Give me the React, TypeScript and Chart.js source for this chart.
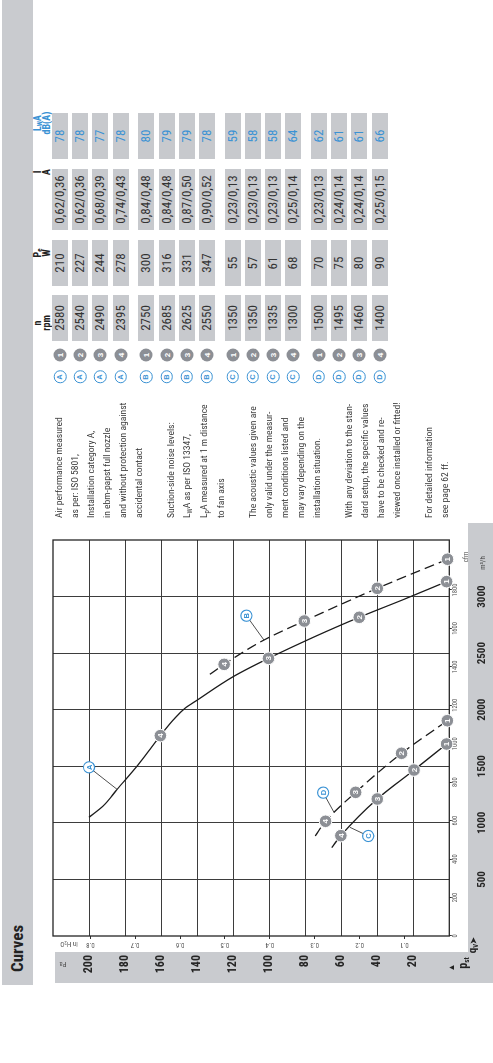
import React, { useEffect, useRef } from 'react';
import { Chart, registerables } from 'chart.js';

Chart.register(...registerables);

const FONT = "'Liberation Sans Narrow','Arial Narrow','Roboto Condensed','Liberation Sans',Arial,sans-serif";
const BAND = '#c9cbcf';
const CELL = '#c7c9cd';
const BLUE = '#3a92d4';
const DOT = '#8c8f95';
const INK = '#262626';
const GRID = '#3d3d3d';

// ---------- axis data ----------
const flowTicks = [500, 1000, 1500, 2000, 2500, 3000];
const cfmTicks = [0, 200, 400, 600, 800, 1000, 1200, 1400, 1600, 1800];
const pressureTicks = [20, 40, 60, 80, 100, 120, 140, 160, 180, 200];
const inH2OTicks = [0.1, 0.2, 0.3, 0.4, 0.5, 0.6, 0.7, 0.8];
const FLOW_MAX = 3500;
const PRESSURE_MAX = 220;
const M3H_PER_CFM = 1.699;
const PA_PER_INH2O = 249.089;

// ---------- curves (flow m³/h, pressure Pa) ----------
const curveAFlow = [1049, 1149, 1296, 1532, 1771, 1924, 2012, 2080, 2292, 2454, 2640, 2817, 2985, 3132];
const curveAPressure = [200, 192.2, 184.4, 171.8, 160.4, 152.4, 146.8, 140.4, 120, 100.4, 75.5, 50, 23.7, 1.5];
const curveBFlow = [2313, 2401, 2616, 2784, 3073, 3330];
const curveBPressure = [132.9, 125, 102.9, 80.5, 40, 1];
const curveCFlow = [781, 887, 1211, 1467, 1697];
const curveCPressure = [65.3, 60.2, 40, 19.6, 1.5];
const curveDFlow = [884, 1014, 1270, 1615, 1903];
const curveDPressure = [74.4, 68.7, 52, 26.5, 1.1];

// operating points 4,3,2,1 on each curve
const pointNumbers = [4, 3, 2, 1];
const opAFlow = [1771, 2454, 2817, 3132];
const opAPressure = [160.4, 100.4, 50, 1.5];
const opBFlow = [2401, 2784, 3073, 3330];
const opBPressure = [125, 80.5, 40, 1];
const opCFlow = [887, 1211, 1467, 1697];
const opCPressure = [60.2, 40, 19.6, 1.5];
const opDFlow = [1014, 1270, 1615, 1903];
const opDPressure = [68.7, 52, 26.5, 1.1];

// curve letters and their leader targets
const curveLetters = ['A', 'B', 'C', 'D'];
const letterFlow = [1491, 2831, 884, 1267];
const letterPressure = [200, 112.6, 45, 70];
const leaderFlow = [1296, 2616, 961, 1093];
const leaderPressure = [184.4, 102.9, 55.2, 64];

// ---------- table ----------
const groups = ['A', 'B', 'C', 'D'];
const speeds = [2580, 2540, 2490, 2395, 2750, 2685, 2625, 2550, 1350, 1350, 1335, 1300, 1500, 1495, 1460, 1400];
const powers = [210, 227, 244, 278, 300, 316, 331, 347, 55, 57, 61, 68, 70, 75, 80, 90];
const currents = ['0,62/0,36', '0,62/0,36', '0,68/0,39', '0,74/0,43', '0,84/0,48', '0,84/0,48', '0,87/0,50', '0,90/0,52',
  '0,23/0,13', '0,23/0,13', '0,23/0,13', '0,25/0,14', '0,23/0,13', '0,24/0,14', '0,24/0,14', '0,25/0,15'];
const noise = [78, 78, 77, 78, 80, 79, 79, 78, 59, 58, 58, 64, 62, 61, 61, 66];

const noteLines = [
  'Air performance measured', 'as per: ISO 5801,', 'Installation category A,', 'in ebm-papst full nozzle',
  'and without protection against', 'accidental contact', '',
  'Suction-side noise levels:', 'L_WA as per ISO 13347,', 'L_pA measured at 1 m distance', 'to fan axis', '',
  'The acoustic values given are', 'only valid under the measur-', 'ment conditions listed and',
  'may vary depending on the', 'installation situation.', '',
  'With any deviation to the stan-', 'dard setup, the specific values', 'have to be checked and re-',
  'viewed once installed or fitted!', '',
  'For detailed information', 'see page 62 ff.',
];

const pts = (xs: number[], ys: number[]) => xs.map((x, i) => ({ x, y: ys[i] }));

const overlayPlugin = {
  id: 'overlay',
  beforeDatasetsDraw(chart: any) {
    const { ctx, chartArea: a } = chart;
    ctx.save();
    ctx.strokeStyle = '#262626';
    ctx.lineWidth = 1.3;
    ctx.strokeRect(a.left, a.top, a.right - a.left, a.bottom - a.top);
    ctx.restore();
  },
  afterDatasetsDraw(chart: any) {
    const { ctx } = chart;
    ctx.save();
    ctx.textAlign = 'center';
    ctx.textBaseline = 'middle';
    chart.data.datasets.forEach((ds: any, i: number) => {
      if (!ds.tags) return;
      ctx.fillStyle = ds.tagColor;
      ctx.font = `bold ${ds.tagSize}px 'Liberation Sans', Arial, sans-serif`;
      chart.getDatasetMeta(i).data.forEach((el: any, j: number) => {
        ctx.fillText(String(ds.tags[j]), el.x, el.y + 0.5);
      });
    });
    ctx.restore();
  },
};

const sub = (t: string) => <span style={{ fontSize: '0.7em', position: 'relative', top: '0.25em' }}>{t}</span>;

function NoteLine({ text }: { text: string }) {
  if (text.startsWith('L_')) {
    return <>L{sub(text[2])}{text.slice(3)}</>;
  }
  return <>{text || '\u00a0'}</>;
}

export default function App() {
  const ref = useRef<HTMLCanvasElement | null>(null);

  useEffect(() => {
    const canvas = ref.current;
    if (!canvas) return;
    const curves = [
      { d: pts(curveAFlow, curveAPressure), dash: false },
      { d: pts(curveBFlow, curveBPressure), dash: true },
      { d: pts(curveCFlow, curveCPressure), dash: false },
      { d: pts(curveDFlow, curveDPressure), dash: true },
    ];
    const ops = [pts(opAFlow, opAPressure), pts(opBFlow, opBPressure), pts(opCFlow, opCPressure), pts(opDFlow, opDPressure)];
    const datasets: any[] = [];
    curves.forEach((c) => datasets.push({
      data: c.d, showLine: true, borderColor: '#1c1c1c', borderWidth: 1.3,
      borderDash: c.dash ? [10, 5] : [], pointRadius: 0, tension: 0.4,
      cubicInterpolationMode: 'monotone', order: 3, clip: false,
    }));
    curveLetters.forEach((_, i) => datasets.push({
      data: [{ x: letterFlow[i], y: letterPressure[i] }, { x: leaderFlow[i], y: leaderPressure[i] }],
      showLine: true, borderColor: '#222', borderWidth: 0.8, pointRadius: 0, order: 2, clip: false,
    }));
    ops.forEach((d) => datasets.push({
      data: d, showLine: false, pointRadius: 6.3, pointBackgroundColor: DOT, pointBorderColor: '#fff',
      pointBorderWidth: 1, order: 1, clip: false, tags: pointNumbers, tagColor: '#fff', tagSize: 8,
    }));
    datasets.push({
      data: pts(letterFlow, letterPressure), showLine: false, pointRadius: 5.6, pointBackgroundColor: '#fff',
      pointBorderColor: BLUE, pointBorderWidth: 1.1, order: 0, clip: false, tags: curveLetters, tagColor: BLUE, tagSize: 7.5,
    });

    const chart = new Chart(canvas, {
      type: 'scatter',
      data: { datasets },
      plugins: [overlayPlugin],
      options: {
        animation: false,
        responsive: false,
        maintainAspectRatio: false,
        events: [],
        layout: { padding: { top: 20, left: 0, right: 25, bottom: 0 } },
        plugins: { legend: { display: false }, tooltip: { enabled: false } },
        scales: {
          x: {
            type: 'linear', position: 'bottom', min: 0, max: FLOW_MAX, weight: 1,
            afterBuildTicks: (s: any) => { s.ticks = flowTicks.map((v) => ({ value: v })); },
            afterFit: (s: any) => { s.height = 24.7; },
            grid: { color: GRID, lineWidth: 1, drawTicks: false },
            border: { display: false },
            ticks: { font: { family: FONT, size: 11, weight: 'bold' }, color: INK, padding: 7, maxRotation: 0, autoSkip: false, callback: (v: any) => String(v) },
          },
          xcfm: {
            type: 'linear', position: 'bottom', min: 0, max: FLOW_MAX / M3H_PER_CFM, weight: 0,
            afterBuildTicks: (s: any) => { s.ticks = cfmTicks.map((v) => ({ value: v })); },
            afterFit: (s: any) => { s.height = 19; },
            grid: { drawOnChartArea: false, drawTicks: true, tickLength: 2.5, color: '#333' },
            border: { display: false },
            ticks: { font: { family: FONT, size: 6.5, lineHeight: 1 }, color: '#555', padding: 0, maxRotation: 0, autoSkip: false, callback: (v: any) => String(v) },
          },
          y: {
            type: 'linear', position: 'left', min: 0, max: PRESSURE_MAX, weight: 1,
            afterBuildTicks: (s: any) => { s.ticks = pressureTicks.map((v) => ({ value: v })); },
            afterFit: (s: any) => { s.width = 33; },
            grid: { color: GRID, lineWidth: 1, drawTicks: false },
            border: { display: false },
            ticks: { font: { family: FONT, size: 12, weight: 'bold' }, color: INK, padding: 3, autoSkip: false, callback: (v: any) => String(v) },
          },
          yin: {
            type: 'linear', position: 'left', min: 0, max: PRESSURE_MAX / PA_PER_INH2O, weight: 0,
            afterBuildTicks: (s: any) => { s.ticks = inH2OTicks.map((v) => ({ value: v })); },
            afterFit: (s: any) => { s.width = 16; },
            grid: { drawOnChartArea: false, drawTicks: true, tickLength: 3, color: '#333' },
            border: { display: false },
            ticks: { font: { family: FONT, size: 7 }, color: '#555', padding: 1, minRotation: 90, maxRotation: 90, crossAlign: 'center', autoSkip: false, callback: (v: any) => Number(v).toFixed(1) },
          },
        },
      } as any,
    } as any);
    return () => chart.destroy();
  }, []);

  const abs = (left: number, top: number, extra: any = {}) => ({ position: 'absolute' as const, left, top, ...extra });
  const centered = (cx: number, cy: number, extra: any = {}) => ({
    position: 'absolute' as const, left: cx, top: cy, transform: 'translate(-50%,-50%)', whiteSpace: 'nowrap' as const, ...extra,
  });

  const columns = [
    { left: 722, width: 46, hc: 740, h1: <>n</>, h2: 'rpm', values: speeds.map(String), color: '#333' },
    { left: 777, width: 46, hc: 810, h1: <>P{sub('e')}</>, h2: 'W', values: powers.map(String), color: '#333' },
    { left: 833, width: 61, hc: 891, h1: <>I</>, h2: 'A', values: currents, color: '#333' },
    { left: 904, width: 46, hc: 940, h1: <>L{sub('W')}A</>, h2: 'dB(A)', values: noise.map(String), color: BLUE },
  ];
  const rowCenter = (i: number) => 60 + Math.floor(i / 4) * 86.3 + (i % 4) * 20.2;

  return (
    <div style={{
      position: 'absolute', left: 0, top: 0, width: 1063, height: 493, overflow: 'hidden',
      transformOrigin: '0 0', transform: 'translateY(1063px) rotate(-90deg)',
      fontFamily: FONT, color: INK, background: '#fff',
    }}>
      {/* bands */}
      <div style={abs(78, 2, { width: 985, height: 31, background: BAND })} />
      <div style={abs(91, 2, { height: 31, lineHeight: '31px', fontSize: 17, fontWeight: 'bold', color: '#222' })}>Curves</div>
      <div style={abs(80, 55, { width: 31, height: 438, background: BAND })} />
      <div style={abs(80, 468, { width: 460, height: 25, background: BAND })} />

      {/* chart */}
      <canvas ref={ref} width={470} height={460} style={abs(78, 33, { width: 470, height: 460 })} />

      {/* axis captions */}
      <div style={centered(99, 62.5, { fontSize: 7, color: '#555', transform: 'translate(-50%,-50%) rotate(-90deg)' })}>Pa</div>
      <div style={centered(119, 69, { fontSize: 7, color: '#555', transform: 'translate(-50%,-50%) rotate(-90deg)' })}>in H{sub('2')}O</div>
      <div style={centered(95.5, 451.5, { fontSize: 8, color: '#222', lineHeight: 1 })}>▲</div>
      <div style={centered(100, 463, { fontSize: 12, fontWeight: 'bold', color: '#222', lineHeight: 1 })}>p<span style={{ fontSize: '0.6em', position: 'relative', top: '0.3em' }}>st</span></div>
      <div style={centered(118, 472, { fontSize: 11, fontWeight: 'bold', color: '#222', lineHeight: 1 })}>q<span style={{ fontSize: '0.6em', position: 'relative', top: '0.3em' }}>V</span><span style={{ fontSize: 8 }}>➤</span></div>
      <div style={centered(506, 466, { fontSize: 7, color: '#555' })}>cfm</div>
      <div style={centered(500, 483, { fontSize: 7, color: '#444' })}>m³/h</div>

      {/* notes */}
      <div style={abs(545, 51, { fontSize: 9.6, lineHeight: '16px', color: '#3a3a3a', whiteSpace: 'nowrap' })}>
        {noteLines.map((t, i) => <div key={i}><NoteLine text={t} /></div>)}
      </div>

      {/* table header */}
      {columns.map((c, k) => (
        <React.Fragment key={'h' + k}>
          <div style={centered(c.hc, 37.5, { fontSize: 10, fontWeight: 'bold', color: k === 3 ? BLUE : '#222', lineHeight: 1 })}>{c.h1}</div>
          <div style={centered(c.hc, 46.5, { fontSize: 10, fontWeight: 'bold', color: k === 3 ? BLUE : '#222', lineHeight: 1 })}>{c.h2}</div>
        </React.Fragment>
      ))}

      {/* table rows */}
      {speeds.map((_, i) => {
        const cy = rowCenter(i);
        return (
          <React.Fragment key={'r' + i}>
            <div style={centered(686, cy, {
              width: 10.5, height: 10.5, borderRadius: '50%', border: `1.2px solid ${BLUE}`, background: '#fff',
              color: BLUE, fontSize: 7.5, fontWeight: 'bold', lineHeight: '10.5px', textAlign: 'center',
              fontFamily: "'Liberation Sans', Arial, sans-serif",
            })}>{groups[Math.floor(i / 4)]}</div>
            <div style={centered(708, cy, {
              width: 13, height: 13, borderRadius: '50%', background: DOT, color: '#fff', fontSize: 8,
              fontWeight: 'bold', lineHeight: '13px', textAlign: 'center', fontFamily: "'Liberation Sans', Arial, sans-serif",
            })}>{(i % 4) + 1}</div>
            {columns.map((c, k) => (
              <div key={k} style={abs(c.left, cy - 8, {
                width: c.width, height: 16, background: CELL, color: c.color, fontSize: 13,
                lineHeight: '16px', textAlign: 'center', whiteSpace: 'nowrap',
              })}>{c.values[i]}</div>
            ))}
          </React.Fragment>
        );
      })}
    </div>
  );
}
